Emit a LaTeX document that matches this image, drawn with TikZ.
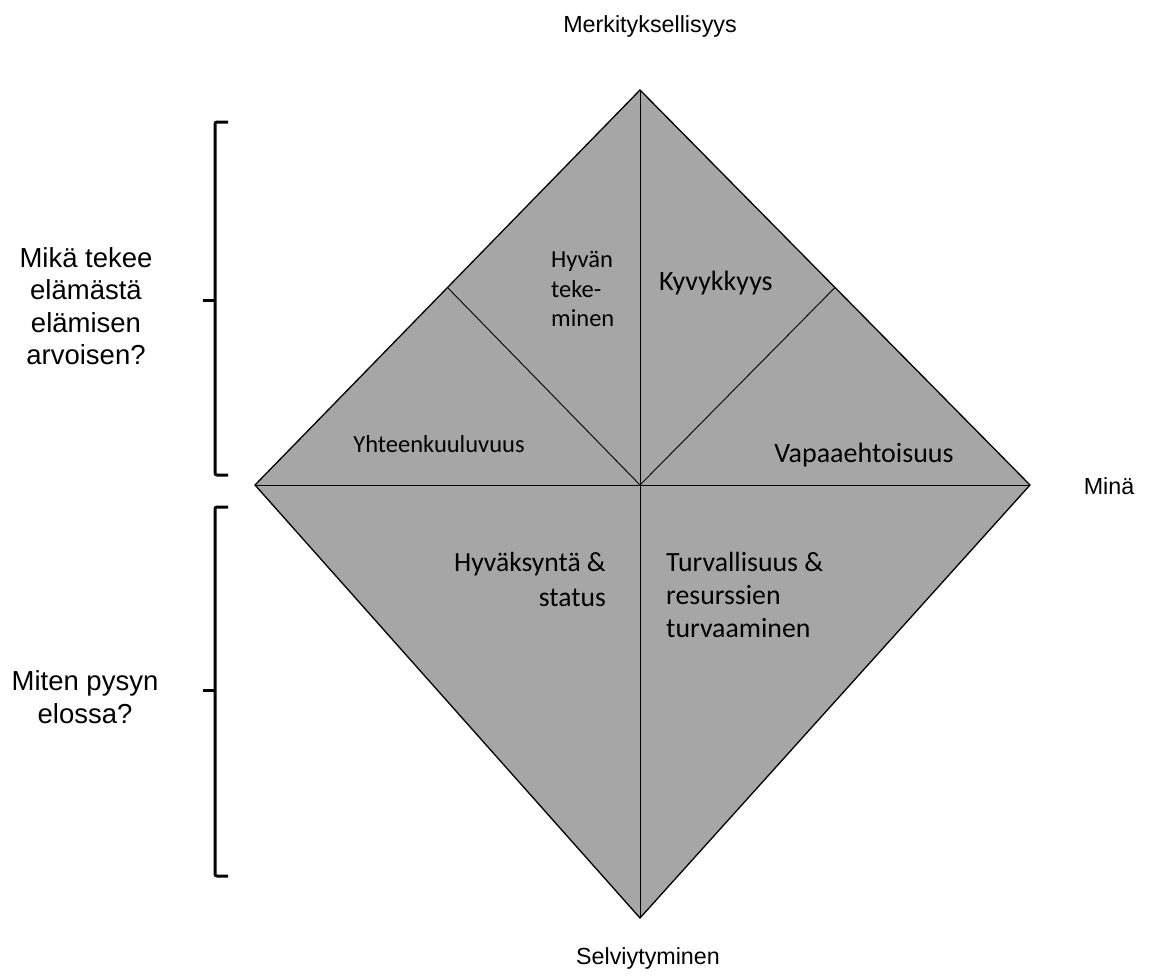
\documentclass[tikz,border=0pt]{standalone}
\usepackage{fontspec}
\setmainfont{Liberation Sans}
\newfontfamily\calibri{Carlito}
\usepackage{tikz}
\usepackage{xcolor}
\usetikzlibrary{positioning,calc}

\definecolor{quadgray}{RGB}{166,166,166}

\begin{document}
\begin{tikzpicture}[
      x=1pt, y=-1pt,
      axislabel/.style={font=\fontsize{23.3}{28}\selectfont, align=center, inner sep=0pt},
      sidelabel/.style={font=\fontsize{27.5}{32.5}\selectfont, align=center, inner sep=0pt},
      fieldtext/.style={font=\calibri, inner sep=0pt},
      divider/.style={draw=black, line width=0.9pt},
      brace/.style={draw=black, line width=3pt, rounded corners=2pt}
  ]
    \useasboundingbox (0,0) rectangle (1155,977);
    % corners of the diamond
    \coordinate (top) at (640,90);
    \coordinate (left) at (255,485);
    \coordinate (right) at (1030,485);
    \coordinate (bottom) at (640,918);
    \coordinate (mid) at (640,485);
    \coordinate (ulm) at ($(top)!0.5!(left)$);
    \coordinate (urm) at ($(top)!0.5!(right)$);
    \fill[quadgray] (top) -- (right) -- (bottom) -- (left) -- cycle;
    \draw[divider] (top) -- (bottom);
    \draw[divider] (left) -- (right);
    \draw[divider] (ulm) -- (mid);
    \draw[divider] (urm) -- (mid);
    \draw[line width=1.3pt, line join=miter] (top) -- (right) -- (bottom) -- (left) -- cycle;
    % fields
    \node[fieldtext, anchor=west, align=left, font=\calibri\fontsize{24.5}{29.5}\selectfont] (hyvan) at (551,289) {Hyvän\\teke-\\minen};
    \node[fieldtext, anchor=west, font=\calibri\fontsize{28}{32}\selectfont] (kyvyk) at (659,283) {Kyvykkyys};
    \node[fieldtext, font=\calibri\fontsize{24.5}{28}\selectfont] (yhteen) at (439,444) {Yhteenkuuluvuus};
    \node[fieldtext, font=\calibri\fontsize{28}{32}\selectfont] (vapaa) at (864,455) {Vapaaehtoisuus};
    \node[fieldtext, anchor=east, align=right, font=\calibri\fontsize{27.6}{35}\selectfont] (hyvaks) at (606,580) {Hyväksyntä \&\\status};
    \node[fieldtext, anchor=west, align=left, font=\calibri\fontsize{27.8}{33}\selectfont] (turva) at (666,595) {Turvallisuus \&\\resurssien\\turvaaminen};
    % axes
    \node[axislabel] (merk) at (650,26) {Merkityksellisyys};
    \node[axislabel] (selv) at (648,958) {Selviytyminen};
    \node[axislabel] (mina) at (1109,486) {Minä};
    % brackets and questions
    \draw[brace] (228,122) -- (215,122) -- (215,475) -- (228,475);
    \draw[brace] (215,300) -- (203,300);
    \draw[brace] (228,507) -- (215,507) -- (215,876) -- (228,876);
    \draw[brace] (215,690) -- (203,690);
    \node[sidelabel] (elama) at (86,306) {Mikä tekee\\elämästä\\elämisen\\arvoisen?};
    \node[sidelabel] (elossa) at (85,697) {Miten pysyn\\elossa?};
  \end{tikzpicture}
\end{document}
